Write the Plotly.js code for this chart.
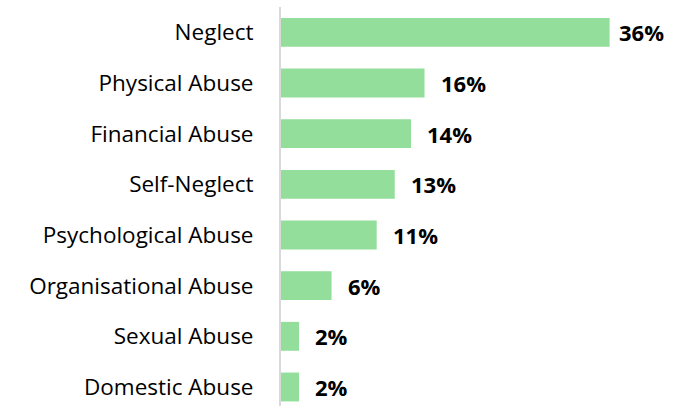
<!DOCTYPE html>
<html>
<head>
<meta charset="utf-8">
<script src="https://cdn.plot.ly/plotly-3.0.1.min.js"></script>
<style>html,body{margin:0;padding:0;background:#fff;}#chart{width:680px;height:406px;}</style>
</head>
<body>
<div id="chart"></div>
<script>
const categories = ["Neglect", "Physical Abuse", "Financial Abuse", "Self-Neglect", "Psychological Abuse", "Organisational Abuse", "Sexual Abuse", "Domestic Abuse"];
const values = [36.4, 15.9, 14.4, 12.6, 10.6, 5.6, 2.0, 2.0];
const valueLabels = ["36%", "16%", "14%", "13%", "11%", "6%", "2%", "2%"];

const FONT = "'Open Sans', Lato, 'Liberation Sans', sans-serif";

const trace = {
  type: "bar",
  orientation: "h",
  x: values,
  y: categories,
  marker: {color: "#92DE9A"},
  hoverinfo: "none"
};

const annotations = values.map((v, i) => ({
  x: v, y: categories[i], xref: "x", yref: "y",
  text: "<b>" + valueLabels[i] + "</b>",
  showarrow: false, xanchor: "left", yanchor: "middle",
  xshift: i === 0 ? 7 : 14,
  font: {family: FONT, size: 22, color: "#000"}
}));

const layout = {
  width: 680, height: 406,
  margin: {l: 281, r: 0, t: 7, b: 0},
  paper_bgcolor: "#fff", plot_bgcolor: "#fff",
  showlegend: false,
  bargap: 0.43,
  xaxis: {range: [0, 44.2], visible: false, fixedrange: true},
  yaxis: {
    type: "category",
    range: [7.375, -0.5],
    showline: true, linecolor: "#d9d9d9", linewidth: 2,
    showgrid: false, zeroline: false,
    ticks: "", ticklabelstandoff: 21,
    tickfont: {family: FONT, size: 22.5, color: "#000"}
  },
  annotations: annotations
};

Plotly.newPlot("chart", [trace], layout, {displayModeBar: false, staticPlot: true});
</script>
</body>
</html>
